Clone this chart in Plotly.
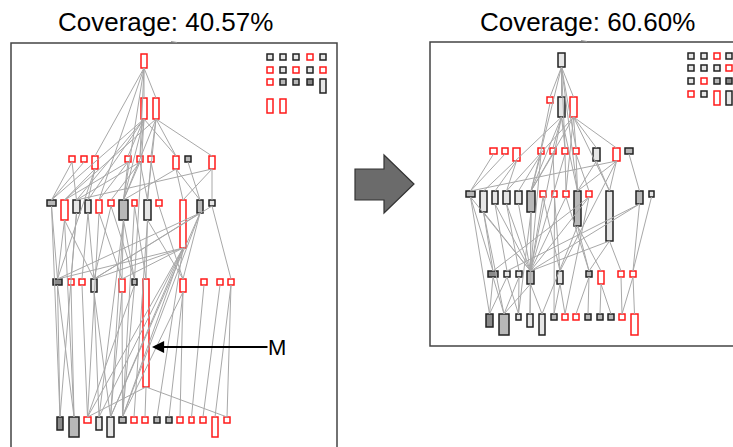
import plotly.graph_objects as go

# ---------------- data ----------------
titles = ["Coverage: 40.57%", "Coverage: 60.60%"]
title_x = [165, 587]
callout_label = "M"

# node style codes: r = red outline, k = dark outline light fill, g = gray fill, d = dark fill
STYLE = {
    "r": ("#ff1a1a", "rgba(255,255,255,0)", 1.5),
    "k": ("#222222", "#e6e6e6", 1.5),
    "g": ("#222222", "#b8b8b8", 1.5),
    "d": ("#222222", "#8a8a8a", 1.5),
}

# left graph: layer tops and nodes (left, width, height, style)
left_tops = [54, 98, 156, 200, 279, 417]
left_layers = [
    [(141, 6, 14, "r")],
    [(141, 6, 21, "r"), (153, 6, 21, "r")],
    [(69, 6, 6, "r"), (81, 6, 6, "r"), (92, 6, 13, "r"), (125, 6, 6, "r"), (137, 6, 6, "r"),
     (148, 6, 6, "r"), (173, 6, 13, "r"), (185, 6, 6, "g"), (209, 6, 13, "r")],
    [(47, 9, 6, "g"), (61, 7, 20, "r"), (73, 7, 13, "k"), (85, 6, 13, "k"), (96, 6, 13, "r"),
     (108, 6, 6, "r"), (119, 9, 20, "g"), (132, 5, 6, "r"), (144, 7, 20, "k"), (156, 6, 6, "r"),
     (180, 6, 48, "r"), (197, 6, 13, "g"), (209, 6, 6, "k")],
    [(53, 9, 6, "d"), (68, 6, 6, "r"), (79, 6, 6, "r"), (91, 6, 13, "k"), (119, 6, 13, "r"),
     (132, 5, 6, "g"), (143, 6, 108, "r"), (180, 6, 13, "r"), (201, 6, 6, "r"), (217, 6, 6, "r"),
     (228, 6, 6, "r")],
    [(57, 6, 13, "d"), (69, 10, 20, "g"), (84, 7, 6, "r"), (96, 6, 13, "k"), (107, 7, 20, "k"),
     (119, 7, 6, "g"), (131, 6, 6, "r"), (142, 6, 6, "r"), (154, 6, 6, "g"), (166, 6, 6, "g"),
     (177, 6, 6, "r"), (189, 5, 6, "r"), (200, 6, 6, "r"), (212, 6, 20, "r"), (224, 6, 6, "r")],
]
left_edges = [
    (0, 0, 1, 0), (0, 0, 1, 1), (0, 0, 2, 2), (0, 0, 2, 4), (0, 0, 3, 4), (0, 0, 3, 6),
    (1, 0, 2, 3), (1, 0, 2, 4), (1, 0, 2, 6), (1, 0, 3, 2), (1, 0, 3, 6), (1, 0, 3, 0),
    (1, 0, 3, 3), (1, 0, 4, 5),
    (1, 1, 2, 5), (1, 1, 2, 6), (1, 1, 2, 8), (1, 1, 3, 8), (1, 1, 3, 1), (1, 1, 3, 6),
    (2, 0, 3, 0), (2, 0, 3, 2), (2, 1, 3, 0), (2, 2, 3, 1), (2, 2, 3, 3), (2, 2, 4, 0),
    (2, 3, 3, 6), (2, 3, 3, 4), (2, 3, 3, 1), (2, 4, 3, 6), (2, 4, 3, 5), (2, 4, 3, 8),
    (2, 4, 3, 2), (2, 5, 3, 8), (2, 5, 3, 9), (2, 6, 3, 10), (2, 6, 3, 11), (2, 6, 3, 6),
    (2, 7, 3, 11), (2, 8, 3, 12), (2, 8, 3, 2), (2, 8, 3, 10),
    (3, 0, 4, 0), (3, 0, 5, 0), (3, 1, 4, 0), (3, 1, 4, 3), (3, 1, 5, 1),
    (3, 2, 4, 1), (3, 2, 5, 0), (3, 3, 4, 2), (3, 3, 4, 3), (3, 4, 4, 4), (3, 4, 5, 2),
    (3, 5, 4, 5), (3, 5, 4, 3), (3, 6, 4, 4), (3, 6, 4, 5), (3, 6, 5, 3), (3, 6, 5, 4),
    (3, 7, 4, 6), (3, 7, 5, 5), (3, 8, 4, 6), (3, 8, 4, 7), (3, 8, 5, 6), (3, 9, 4, 7),
    (3, 10, 4, 4), (3, 10, 4, 3), (3, 10, 5, 8), (3, 10, 4, 0), (3, 10, 5, 3), (3, 10, 5, 4),
    (3, 10, 5, 2), (3, 10, 5, 5),
    (3, 11, 4, 0), (3, 11, 4, 7), (3, 11, 5, 5), (3, 11, 5, 4), (3, 11, 4, 3), (3, 12, 4, 10),
    (3, 12, 4, 3),
    (4, 0, 5, 0), (4, 0, 5, 1), (4, 1, 5, 1), (4, 2, 5, 2), (4, 3, 5, 3), (4, 3, 5, 4),
    (4, 4, 5, 4), (4, 4, 5, 5), (4, 5, 5, 5), (4, 5, 5, 2), (4, 6, 5, 7), (4, 6, 5, 14),
    (4, 6, 5, 2), (4, 7, 5, 9), (4, 7, 5, 10), (4, 7, 5, 5), (4, 8, 5, 11), (4, 9, 5, 12),
    (4, 10, 5, 13), (4, 10, 5, 14),
]

# right graph
right_tops = [53, 97, 148, 191, 271, 314]
right_layers = [
    [(558, 7, 14, "k")],
    [(547, 6, 6, "r"), (558, 7, 20, "k"), (570, 7, 20, "r")],
    [(490, 7, 6, "r"), (502, 6, 6, "r"), (513, 7, 13, "r"), (538, 6, 6, "r"), (550, 6, 6, "r"),
     (562, 6, 6, "r"), (573, 6, 6, "r"), (593, 7, 13, "k"), (613, 7, 13, "r"), (625, 8, 6, "g")],
    [(466, 9, 6, "g"), (480, 7, 21, "k"), (492, 6, 13, "k"), (503, 7, 13, "k"), (515, 7, 13, "k"),
     (527, 8, 21, "g"), (540, 6, 6, "r"), (552, 5, 6, "r"), (563, 6, 6, "r"), (574, 7, 35, "g"),
     (586, 6, 6, "r"), (606, 7, 50, "k"), (636, 7, 13, "g"), (649, 5, 6, "k")],
    [(488, 10, 6, "d"), (504, 6, 6, "k"), (516, 6, 6, "k"), (527, 7, 13, "g"), (557, 6, 13, "k"),
     (586, 6, 6, "g"), (598, 6, 13, "r"), (618, 6, 6, "r"), (630, 6, 6, "r")],
    [(486, 7, 13, "d"), (499, 10, 21, "g"), (516, 5, 6, "k"), (527, 6, 13, "k"), (539, 6, 21, "k"),
     (551, 6, 6, "g"), (562, 6, 6, "r"), (573, 6, 6, "r"), (585, 6, 6, "g"), (597, 6, 6, "g"),
     (608, 6, 6, "g"), (619, 6, 6, "r"), (631, 7, 21, "r")],
]
right_edges = [
    (0, 0, 1, 1), (0, 0, 1, 2), (0, 0, 1, 0), (0, 0, 2, 5), (0, 0, 2, 6), (0, 0, 3, 5),
    (0, 0, 3, 9),
    (1, 0, 2, 3), (1, 1, 2, 4), (1, 1, 2, 5), (1, 1, 3, 5), (1, 1, 3, 9), (1, 1, 4, 3),
    (1, 1, 3, 1), (1, 2, 3, 3),
    (1, 2, 2, 6), (1, 2, 2, 7), (1, 2, 2, 8), (1, 2, 3, 8), (1, 2, 3, 11), (1, 2, 3, 5),
    (2, 0, 3, 0), (2, 1, 3, 0), (2, 2, 3, 2), (2, 2, 3, 3), (2, 3, 3, 4), (2, 3, 3, 5),
    (2, 3, 4, 3), (2, 4, 3, 5), (2, 4, 3, 7), (2, 5, 3, 8), (2, 5, 4, 3), (2, 6, 3, 9),
    (2, 6, 3, 10), (2, 7, 3, 11), (2, 7, 3, 9), (2, 8, 3, 11), (2, 8, 3, 9), (2, 8, 3, 0),
    (2, 8, 4, 4), (2, 9, 3, 12),
    (3, 0, 4, 0), (3, 0, 4, 3), (3, 0, 5, 0), (3, 1, 4, 0), (3, 1, 4, 3), (3, 1, 5, 1),
    (3, 2, 4, 1), (3, 2, 4, 3), (3, 3, 4, 2), (3, 3, 4, 3), (3, 4, 4, 3), (3, 5, 4, 3),
    (3, 5, 5, 3), (3, 5, 5, 2), (3, 6, 4, 3), (3, 6, 4, 4), (3, 7, 4, 4), (3, 7, 5, 5),
    (3, 8, 4, 3), (3, 8, 4, 5), (3, 9, 4, 5), (3, 9, 4, 6), (3, 9, 5, 4), (3, 10, 4, 3),
    (3, 10, 4, 0), (3, 10, 5, 6), (3, 11, 4, 3), (3, 11, 4, 7), (3, 11, 4, 5),
    (3, 12, 4, 3), (3, 12, 4, 8), (3, 12, 4, 1), (3, 13, 4, 8),
    (4, 0, 5, 0), (4, 0, 5, 1), (4, 1, 5, 0), (4, 1, 5, 2), (4, 2, 5, 2), (4, 2, 5, 1),
    (4, 3, 5, 3), (4, 3, 5, 4), (4, 3, 5, 1), (4, 4, 5, 5), (4, 4, 5, 6), (4, 5, 5, 7),
    (4, 5, 5, 8), (4, 6, 5, 9), (4, 6, 5, 10), (4, 7, 5, 11), (4, 8, 5, 12), (4, 8, 5, 11),
]

# legends (grid of glyphs): column lefts, row tops, style / height per cell
left_legend_cols = [267, 280, 293, 307, 320]
left_legend_rows = [54, 67, 79, 99]
left_legend_cells = [
    [("k", 6), ("k", 6), ("k", 6), ("r", 6), ("k", 6)],
    [("r", 6), ("k", 6), ("r", 6), ("k", 6), ("r", 6)],
    [("r", 6), ("g", 6), ("g", 6), ("d", 6), ("k", 14)],
    [("r", 14), ("r", 14)],
]
right_legend_cols = [688, 701, 714, 726]
right_legend_rows = [53, 65, 78, 91]
right_legend_cells = [
    [("k", 6), ("k", 6), ("r", 6), ("k", 6)],
    [("k", 6), ("k", 6), ("k", 6), ("r", 6)],
    [("k", 6), ("r", 6), ("g", 6), ("d", 6)],
    [("r", 6), ("k", 6), ("r", 14), ("k", 14)],
]

# panel frames (x0, y0, x1, y1)
frames = [(11, 43, 337, 470), (430, 42, 760, 346)]

# ---------------- figure ----------------
fig = go.Figure()
shapes = []


def add_rect(x, y, w, h, st):
    line_c, fill_c, lw = STYLE[st]
    shapes.append(dict(type="rect", xref="x", yref="y", x0=x, x1=x + w, y0=y, y1=y + h,
                       line=dict(color=line_c, width=lw), fillcolor=fill_c, layer="below"))


for (x0, y0, x1, y1) in frames:
    shapes.append(dict(type="rect", xref="x", yref="y", x0=x0, y0=y0, x1=x1, y1=y1,
                       line=dict(color="#444444", width=1.5), fillcolor="white", layer="below"))
    mid = (x0 + x1) / 2 if x1 < 740 else 584
    shapes.append(dict(type="line", xref="x", yref="y", x0=mid - 3, x1=mid + 3, y0=y0 - 1.5,
                       y1=y0 - 0.5, line=dict(color="#999999", width=1), layer="below"))

for tops, layers, edges in [(left_tops, left_layers, left_edges), (right_tops, right_layers, right_edges)]:
    for li, layer in enumerate(layers):
        for (x, w, h, st) in layer:
            add_rect(x, tops[li], w, h, st)
    ex, ey = [], []
    for (la, ia, lb, ib) in edges:
        xa, wa, ha, _ = layers[la][ia]
        xb, wb, hb, _ = layers[lb][ib]
        ex += [xa + wa / 2, xb + wb / 2, None]
        ey += [tops[la] + ha, tops[lb], None]
    fig.add_trace(go.Scatter(x=ex, y=ey, mode="lines", line=dict(color="#a8a8a8", width=1),
                             hoverinfo="skip"))

for cols, rows, cells in [(left_legend_cols, left_legend_rows, left_legend_cells),
                          (right_legend_cols, right_legend_rows, right_legend_cells)]:
    for ri, row in enumerate(cells):
        for ci, (st, h) in enumerate(row):
            add_rect(cols[ci], rows[ri], 6, h, st)

# block arrow between panels
shapes.append(dict(type="path", xref="x", yref="y",
                   path="M 355 169 L 384 169 L 384 155 L 414 184 L 384 213 L 384 200 L 355 200 Z",
                   fillcolor="#6b6b6b", line=dict(color="#333333", width=1.2), layer="above"))

fig.update_layout(shapes=shapes)

annotations = []
for t, x in zip(titles, title_x):
    annotations.append(dict(x=x, y=22, xref="x", yref="y", text=t, showarrow=False,
                            font=dict(family="Liberation Sans, Arial, sans-serif", size=26, color="black")))
annotations.append(dict(x=152, y=347, xref="x", yref="y", ax=277, ay=347, axref="x", ayref="y",
                        text=callout_label, showarrow=True, arrowhead=2, arrowsize=1.1, arrowwidth=2.2,
                        arrowcolor="black", standoff=0, borderpad=0, xanchor="center",
                        font=dict(family="Liberation Sans, Arial, sans-serif", size=22, color="black")))
fig.update_layout(annotations=annotations)

fig.update_layout(
    width=733, height=447, margin=dict(l=0, r=0, t=0, b=0),
    paper_bgcolor="white", plot_bgcolor="white", showlegend=False,
    xaxis=dict(range=[0, 733], visible=False, fixedrange=True),
    yaxis=dict(range=[447, 0], visible=False, fixedrange=True),
)

fig.write_html("out.html", config={"displayModeBar": False},
               post_script="document.body.style.margin='0';document.body.style.overflow='hidden';")
